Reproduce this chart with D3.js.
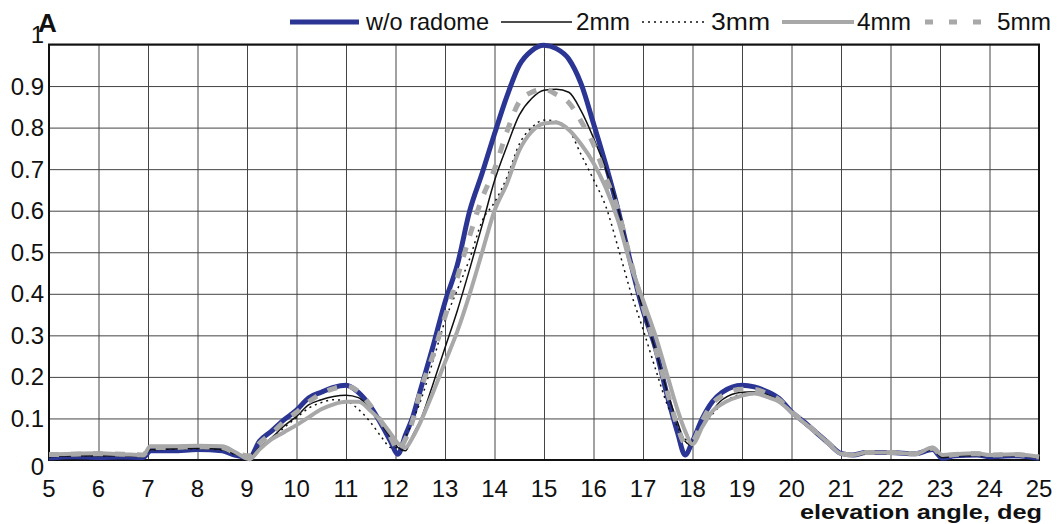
<html>
<head>
<script src="https://d3js.org/d3.v7.min.js"></script>
<style>
body { margin: 0; background: #fff; }
text { font-family: Arial, "Liberation Sans", sans-serif; }
</style>
</head>
<body>
<svg width="1057" height="524"></svg>
<script>
// elevation angle, deg
var angles = [5, 5.5, 6, 6.5, 6.9, 7.05, 7.5, 8, 8.5, 8.75, 9.05, 9.25, 9.5, 9.75, 10, 10.25, 10.5, 10.75, 11, 11.25,
  11.5, 11.75, 11.9, 12.05, 12.2, 12.35, 12.5, 12.75, 13, 13.25, 13.5, 13.75, 14, 14.25, 14.5, 14.75, 15, 15.25, 15.5, 15.75,
  16, 16.25, 16.5, 16.75, 17, 17.25, 17.5, 17.7, 17.85, 18, 18.2, 18.4, 18.6, 19, 19.25, 19.5, 19.75, 20, 20.25, 20.5,
  20.75, 21, 21.25, 21.5, 22, 22.5, 22.85, 23.05, 23.3, 23.75, 24, 24.5, 25];

var noRadome = [0.005, 0.008, 0.006, 0.007, 0.006, 0.022, 0.022, 0.025, 0.022, 0.012, 0.006, 0.045, 0.07, 0.097, 0.12, 0.15, 0.163, 0.175, 0.18, 0.163,
  0.128, 0.078, 0.045, 0.014, 0.06, 0.104, 0.167, 0.27, 0.38, 0.47, 0.6, 0.69, 0.785, 0.875, 0.95, 0.985, 0.998, 0.99, 0.965, 0.905,
  0.81, 0.71, 0.6, 0.475, 0.36, 0.27, 0.15, 0.065, 0.012, 0.045, 0.1, 0.14, 0.163, 0.18, 0.176, 0.165, 0.148, 0.116, 0.092, 0.066,
  0.04, 0.016, 0.012, 0.018, 0.018, 0.015, 0.025, 0.004, 0.01, 0.012, 0.008, 0.01, 0.004];

var mm2 = [0.008, 0.01, 0.01, 0.01, 0.008, 0.025, 0.027, 0.028, 0.025, 0.015, 0.008, 0.03, 0.054, 0.082, 0.105, 0.133, 0.145, 0.153, 0.156, 0.15,
  0.12, 0.08, 0.055, 0.03, 0.022, 0.06, 0.095, 0.18, 0.27, 0.36, 0.46, 0.565, 0.672, 0.755, 0.83, 0.87, 0.89, 0.892, 0.885, 0.84,
  0.775, 0.7, 0.605, 0.475, 0.36, 0.265, 0.16, 0.09, 0.045, 0.035, 0.08, 0.118, 0.145, 0.163, 0.164, 0.158, 0.142, 0.115, 0.09, 0.064,
  0.038, 0.015, 0.01, 0.015, 0.018, 0.017, 0.024, 0.006, 0.01, 0.011, 0.01, 0.01, 0.005];

var mm3 = [0.008, 0.01, 0.01, 0.01, 0.008, 0.024, 0.026, 0.027, 0.024, 0.014, 0.008, 0.03, 0.05, 0.078, 0.102, 0.125, 0.138, 0.145, 0.142, 0.122,
  0.09, 0.05, 0.03, 0.03, 0.055, 0.095, 0.14, 0.235, 0.335, 0.41, 0.485, 0.575, 0.62, 0.68, 0.76, 0.8, 0.818, 0.815, 0.795, 0.735,
  0.675, 0.61, 0.51, 0.405, 0.315, 0.22, 0.13, 0.08, 0.05, 0.045, 0.08, 0.11, 0.135, 0.158, 0.16, 0.155, 0.14, 0.114, 0.09, 0.064,
  0.038, 0.015, 0.01, 0.015, 0.018, 0.016, 0.024, 0.006, 0.01, 0.011, 0.01, 0.01, 0.005];

var mm4 = [0.013, 0.015, 0.016, 0.014, 0.012, 0.033, 0.033, 0.034, 0.033, 0.02, 0.002, 0.025, 0.05, 0.067, 0.084, 0.103, 0.122, 0.134, 0.14, 0.14,
  0.118, 0.088, 0.064, 0.04, 0.03, 0.055, 0.09, 0.16, 0.235, 0.31, 0.4, 0.5, 0.6, 0.665, 0.745, 0.79, 0.81, 0.812, 0.795, 0.76,
  0.715, 0.655, 0.575, 0.47, 0.385, 0.3, 0.2, 0.12, 0.07, 0.038, 0.08, 0.117, 0.135, 0.155, 0.16, 0.152, 0.14, 0.115, 0.09, 0.066,
  0.04, 0.015, 0.012, 0.018, 0.018, 0.015, 0.03, 0.012, 0.014, 0.016, 0.012, 0.014, 0.008];

var mm5 = [0.013, 0.014, 0.015, 0.014, 0.012, 0.03, 0.03, 0.032, 0.03, 0.018, 0.01, 0.04, 0.065, 0.092, 0.115, 0.14, 0.16, 0.172, 0.178, 0.165,
  0.13, 0.085, 0.055, 0.025, 0.05, 0.096, 0.165, 0.25, 0.345, 0.44, 0.54, 0.63, 0.7, 0.79, 0.862, 0.885, 0.892, 0.88, 0.86, 0.815,
  0.76, 0.68, 0.6, 0.48, 0.37, 0.27, 0.16, 0.08, 0.04, 0.045, 0.095, 0.135, 0.155, 0.17, 0.17, 0.16, 0.145, 0.116, 0.092, 0.066,
  0.04, 0.016, 0.012, 0.018, 0.018, 0.015, 0.028, 0.01, 0.013, 0.015, 0.012, 0.013, 0.007];

var seriesNames = ["w/o radome", "2mm", "3mm", "4mm", "5mm"];
var xTickValues = [5, 6, 7, 8, 9, 10, 11, 12, 13, 14, 15, 16, 17, 18, 19, 20, 21, 22, 23, 24, 25];
var yTickValues = [0, 0.1, 0.2, 0.3, 0.4, 0.5, 0.6, 0.7, 0.8, 0.9, 1];

var styles = [
  { color: "#2b3593", width: 5, dash: null },
  { color: "#111", width: 1.5, dash: null },
  { color: "#111", width: 1.5, dash: "2,4" },
  { color: "#a8a8a8", width: 4, dash: null },
  { color: "#a8a8a8", width: 5, dash: "10,12" }
];
var allSeries = [noRadome, mm2, mm3, mm4, mm5];

var plotLeft = 49, plotRight = 1039, plotTop = 44.5, plotBottom = 460;
var svg = d3.select("svg");

var x = d3.scaleLinear().domain([5, 25]).range([plotLeft, plotRight]);
var y = d3.scaleLinear().domain([0, 1]).range([plotBottom, plotTop]);

// grid
svg.append("g")
  .attr("transform", "translate(0," + plotBottom + ")")
  .call(d3.axisBottom(x).tickValues(xTickValues).tickSize(-(plotBottom - plotTop)).tickFormat(""))
  .call(g => g.select(".domain").remove())
  .selectAll("line").attr("stroke", "#444").attr("stroke-width", 1);

svg.append("g")
  .attr("transform", "translate(" + plotLeft + ",0)")
  .call(d3.axisLeft(y).tickValues(yTickValues).tickSize(-(plotRight - plotLeft)).tickFormat(""))
  .call(g => g.select(".domain").remove())
  .selectAll("line").attr("stroke", "#444").attr("stroke-width", 1);

// tick labels
svg.append("g").selectAll("text").data(xTickValues).enter()
  .append("text")
  .attr("x", d => x(d))
  .attr("y", 497)
  .attr("text-anchor", "middle")
  .attr("font-size", 24)
  .attr("fill", "#111")
  .text(d => d);

svg.append("g").selectAll("text").data(yTickValues).enter()
  .append("text")
  .attr("x", 44)
  .attr("y", d => y(d) + (d == 1 ? -1.5 : d == 0 ? 15 : 8.5))
  .attr("text-anchor", "end")
  .attr("font-size", 24)
  .attr("fill", "#111")
  .text(d => d);

// frame
svg.append("rect")
  .attr("x", plotLeft).attr("y", plotTop)
  .attr("width", plotRight - plotLeft).attr("height", plotBottom - plotTop)
  .attr("fill", "none").attr("stroke", "#111").attr("stroke-width", 2);

// curves
var line = d3.line()
  .x((d, i) => x(angles[i]))
  .y(d => y(d))
  .curve(d3.curveMonotoneX);

svg.append("g").selectAll("path").data(allSeries).enter()
  .append("path")
  .attr("d", d => line(d))
  .attr("fill", "none")
  .attr("stroke", (d, i) => styles[i].color)
  .attr("stroke-width", (d, i) => styles[i].width)
  .attr("stroke-dasharray", (d, i) => styles[i].dash)
  .attr("stroke-linejoin", "round");

// legend
var legendPos = [
  { x1: 290, x2: 359, tx: 366, tw: 123 },
  { x1: 501, x2: 572, tx: 576, tw: 54 },
  { x1: 642, x2: 708, tx: 711, tw: 59 },
  { x1: 782, x2: 854, tx: 857, tw: 54 },
  { x1: 925, x2: 993, tx: 997, tw: 54 }
];
var lg = svg.append("g").selectAll("g").data(seriesNames).enter().append("g");
lg.append("line")
  .attr("x1", (d, i) => legendPos[i].x1)
  .attr("x2", (d, i) => legendPos[i].x2)
  .attr("y1", 22).attr("y2", 22)
  .attr("stroke", (d, i) => styles[i].color)
  .attr("stroke-width", (d, i) => styles[i].width)
  .attr("stroke-dasharray", (d, i) => i == 4 ? "8,16" : styles[i].dash);
lg.append("text")
  .attr("x", (d, i) => legendPos[i].tx)
  .attr("y", 30)
  .attr("font-size", 24)
  .attr("textLength", (d, i) => legendPos[i].tw)
  .attr("lengthAdjust", "spacingAndGlyphs")
  .attr("fill", "#111")
  .text(d => d);

// labels
svg.append("text")
  .attr("x", 38).attr("y", 32)
  .attr("font-size", 26).attr("font-weight", "bold")
  .attr("fill", "#111")
  .text("A");

svg.append("text")
  .attr("x", 1042).attr("y", 519)
  .attr("text-anchor", "end")
  .attr("font-size", 20).attr("font-weight", "bold")
  .attr("textLength", 242)
  .attr("lengthAdjust", "spacingAndGlyphs")
  .attr("fill", "#111")
  .text("elevation angle, deg");
</script>
</body>
</html>
